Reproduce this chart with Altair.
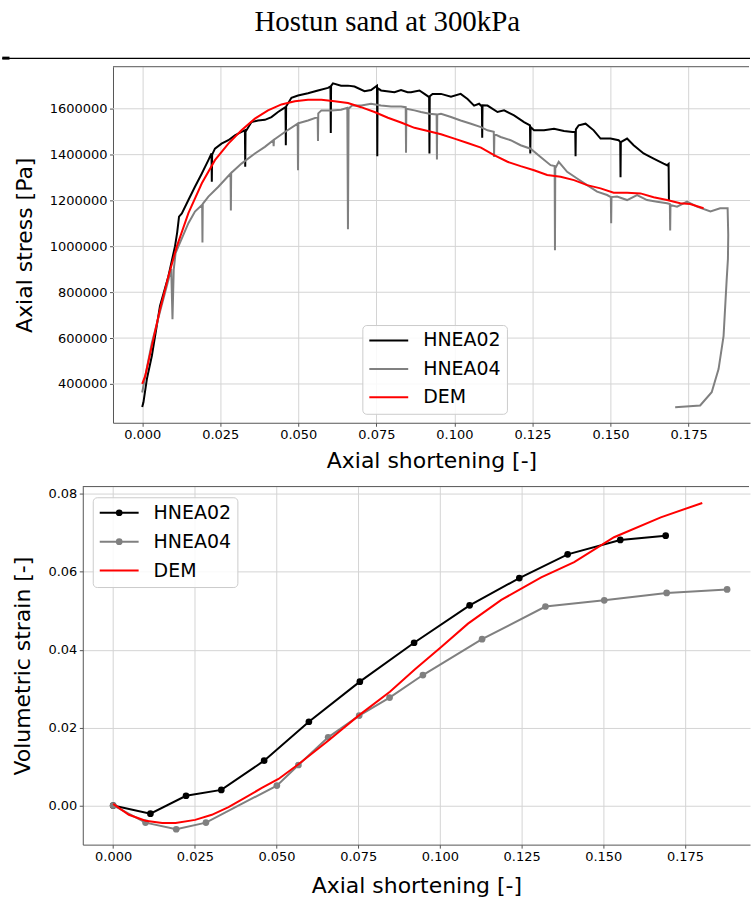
import altair as alt
import pandas as pd

SERIES = ["HNEA02", "HNEA04", "DEM"]
COLORS = ["#000000", "#808080", "#ff0000"]
FRAME = "#555555"
GRID = "#d4d4d4"
TITLE = "Hostun sand at 300kPa"

# ---------------- top panel: axial stress vs axial shortening ----------------
top_h02_x = [0.0000, 0.0004, 0.0015, 0.0031, 0.0057, 0.0084, 0.0105, 0.0112, 0.0118, 0.0127,
             0.0148, 0.0169, 0.0191, 0.0212, 0.0222, 0.0223, 0.0224, 0.0233, 0.0254, 0.0276,
             0.0297, 0.0318, 0.0329, 0.0330, 0.0331, 0.0350, 0.0371, 0.0393, 0.0414, 0.0435,
             0.0459, 0.0460, 0.0461, 0.0478, 0.0499, 0.0531, 0.0563, 0.0595, 0.0603, 0.0604,
             0.0605, 0.0611, 0.0637, 0.0659, 0.0680, 0.0712, 0.0733, 0.0752, 0.0753, 0.0754,
             0.0765, 0.0808, 0.0829, 0.0850, 0.0861, 0.0888, 0.0904, 0.0919, 0.0920, 0.0921,
             0.0930, 0.0957, 0.0989, 0.1020, 0.1042, 0.1063, 0.1079, 0.1088, 0.1089, 0.1090,
             0.1106, 0.1138, 0.1159, 0.1191, 0.1223, 0.1242, 0.1243, 0.1244, 0.1255, 0.1287,
             0.1319, 0.1351, 0.1378, 0.1387, 0.1388, 0.1389, 0.1398, 0.1420, 0.1446, 0.1468,
             0.1500, 0.1526, 0.1531, 0.1532, 0.1533, 0.1553, 0.1574, 0.1606, 0.1638, 0.1670,
             0.1681, 0.1686, 0.1687]
top_h02_y = [300000, 320000, 421000, 523000, 740000, 870000, 1000000, 1060000, 1130000, 1144000,
             1202000, 1260000, 1318000, 1376000, 1405000, 1282000, 1400000, 1426000, 1448000, 1463000,
             1484000, 1499000, 1506000, 1347000, 1500000, 1542000, 1549000, 1552000, 1564000, 1586000,
             1607000, 1441000, 1610000, 1648000, 1658000, 1668000, 1680000, 1691000, 1697000, 1494000,
             1700000, 1711000, 1701000, 1701000, 1697000, 1677000, 1682000, 1701000, 1393000, 1690000,
             1680000, 1672000, 1682000, 1672000, 1672000, 1680000, 1665000, 1651000, 1405000, 1655000,
             1665000, 1665000, 1653000, 1665000, 1643000, 1614000, 1622000, 1610000, 1474000, 1615000,
             1614000, 1586000, 1593000, 1571000, 1542000, 1528000, 1405000, 1520000, 1506000, 1506000,
             1513000, 1503000, 1499000, 1499000, 1393000, 1510000, 1528000, 1535000, 1506000, 1470000,
             1470000, 1463000, 1455000, 1301000, 1455000, 1470000, 1441000, 1405000, 1383000, 1361000,
             1354000, 1360000, 1200000]

top_h04_x = [0.0000, 0.0010, 0.0031, 0.0057, 0.0084, 0.0093, 0.0097, 0.0101, 0.0107, 0.0116,
             0.0148, 0.0169, 0.0192, 0.0193, 0.0194, 0.0212, 0.0244, 0.0283, 0.0284, 0.0285,
             0.0318, 0.0361, 0.0393, 0.0420, 0.0421, 0.0422, 0.0457, 0.0498, 0.0499, 0.0500,
             0.0531, 0.0562, 0.0563, 0.0564, 0.0574, 0.0606, 0.0637, 0.0657, 0.0659, 0.0661,
             0.0672, 0.0702, 0.0733, 0.0765, 0.0797, 0.0829, 0.0844, 0.0845, 0.0846, 0.0872,
             0.0893, 0.0920, 0.0943, 0.0944, 0.0945, 0.0957, 0.0989, 0.1020, 0.1053, 0.1085,
             0.1106, 0.1126, 0.1127, 0.1128, 0.1148, 0.1180, 0.1212, 0.1244, 0.1276, 0.1308,
             0.1321, 0.1322, 0.1323, 0.1334, 0.1361, 0.1393, 0.1425, 0.1457, 0.1489, 0.1501,
             0.1502, 0.1503, 0.1521, 0.1553, 0.1585, 0.1617, 0.1649, 0.1681, 0.1690, 0.1691,
             0.1692, 0.1713, 0.1745, 0.1777, 0.1820, 0.1851, 0.1875, 0.1877, 0.1876, 0.1872,
             0.1862, 0.1846, 0.1824, 0.1787, 0.1707]
top_h04_y = [363000, 436000, 580000, 715000, 855000, 901000, 682000, 899000, 971000, 1000000,
             1101000, 1152000, 1181000, 1017000, 1185000, 1217000, 1260000, 1318000, 1156000, 1320000,
             1361000, 1405000, 1434000, 1463000, 1437000, 1465000, 1499000, 1535000, 1332000, 1537000,
             1549000, 1564000, 1460000, 1580000, 1593000, 1593000, 1596000, 1604000, 1075000, 1600000,
             1614000, 1614000, 1622000, 1614000, 1610000, 1610000, 1607000, 1408000, 1600000, 1593000,
             1586000, 1578000, 1575000, 1379000, 1575000, 1578000, 1564000, 1549000, 1535000, 1520000,
             1506000, 1500000, 1390000, 1490000, 1477000, 1463000, 1441000, 1426000, 1390000, 1354000,
             1350000, 983000, 1340000, 1369000, 1325000, 1296000, 1267000, 1239000, 1224000, 1215000,
             1101000, 1215000, 1217000, 1202000, 1224000, 1202000, 1195000, 1188000, 1185000, 1069000,
             1180000, 1173000, 1195000, 1173000, 1152000, 1166000, 1166000, 1050000, 945000, 855000,
             609000, 465000, 364000, 306000, 298000]

top_dem_x = [0.0000, 0.0010, 0.0031, 0.0057, 0.0084, 0.0111, 0.0148, 0.0191, 0.0233, 0.0276,
             0.0318, 0.0361, 0.0403, 0.0446, 0.0489, 0.0531, 0.0574, 0.0616, 0.0659, 0.0701,
             0.0744, 0.0787, 0.0829, 0.0872, 0.0915, 0.0957, 0.1000, 0.1042, 0.1085, 0.1127,
             0.1170, 0.1212, 0.1255, 0.1297, 0.1340, 0.1383, 0.1425, 0.1468, 0.1510, 0.1553,
             0.1596, 0.1638, 0.1681, 0.1723, 0.1755, 0.1798]
top_dem_y = [400000, 436000, 566000, 725000, 870000, 1000000, 1145000, 1275000, 1376000, 1448000,
             1506000, 1557000, 1593000, 1619000, 1633000, 1639000, 1639000, 1633000, 1625000, 1607000,
             1586000, 1561000, 1540000, 1517000, 1503000, 1489000, 1470000, 1451000, 1431000, 1398000,
             1369000, 1350000, 1332000, 1311000, 1304000, 1289000, 1267000, 1253000, 1234000, 1234000,
             1231000, 1214000, 1202000, 1188000, 1185000, 1166000]

top_xticks = [0.0, 0.025, 0.05, 0.075, 0.1, 0.125, 0.15, 0.175]
top_yticks = [400000, 600000, 800000, 1000000, 1200000, 1400000, 1600000]

# ---------------- bottom panel: volumetric strain vs axial shortening ----------------
bot_h02_x = [0.0, 0.0114, 0.0223, 0.0331, 0.0462, 0.0599, 0.0755, 0.0921, 0.1091, 0.1243,
             0.1391, 0.1552, 0.1691]
bot_h02_y = [0.0, -0.0021, 0.0025, 0.0040, 0.0115, 0.0215, 0.0318, 0.0418, 0.0514, 0.0584,
             0.0645, 0.0682, 0.0693]
bot_h04_x = [0.0, 0.0099, 0.0193, 0.0284, 0.0501, 0.0567, 0.0658, 0.0753, 0.0846, 0.0948,
             0.1129, 0.1323, 0.1503, 0.1694, 0.1879]
bot_h04_y = [0.0, -0.0044, -0.0061, -0.0044, 0.0051, 0.0104, 0.0175, 0.0231, 0.0277, 0.0335,
             0.0427, 0.0511, 0.0527, 0.0546, 0.0555]
bot_dem_x = [0.0, 0.0048, 0.0099, 0.0150, 0.0191, 0.0251, 0.0302, 0.0353, 0.0404, 0.0455,
             0.0506, 0.0567, 0.0658, 0.0753, 0.0847, 0.0923, 0.1004, 0.1086, 0.1188, 0.1310,
             0.1411, 0.1533, 0.1676, 0.1803]
bot_dem_y = [0.0004, -0.0024, -0.0039, -0.0045, -0.0045, -0.0037, -0.0024, -0.0004, 0.0020, 0.0045,
             0.0068, 0.0106, 0.0166, 0.0232, 0.0292, 0.0349, 0.0407, 0.0467, 0.0528, 0.0586,
             0.0625, 0.0689, 0.0740, 0.0777]

bot_xticks = [0.0, 0.025, 0.05, 0.075, 0.1, 0.125, 0.15, 0.175]
bot_yticks = [0.0, 0.02, 0.04, 0.06, 0.08]


def table(name, xs, ys):
    return pd.DataFrame({"x": xs, "y": ys, "series": name, "i": list(range(len(xs)))})


top_df = pd.concat([table("HNEA02", top_h02_x, top_h02_y),
                    table("HNEA04", top_h04_x, top_h04_y),
                    table("DEM", top_dem_x, top_dem_y)], ignore_index=True)
bot_df = pd.concat([table("HNEA02", bot_h02_x, bot_h02_y),
                    table("HNEA04", bot_h04_x, bot_h04_y),
                    table("DEM", bot_dem_x, bot_dem_y)], ignore_index=True)
one = pd.DataFrame({"k": [0]})
top_grid_df = pd.DataFrame({"y": top_yticks})

W = 669          # both panels share the same group origin
SHIFT = 30.3     # the upper panel's frame starts this far right of the lower one
TH, BH = 357, 359


def line_legend(lx, ly, rowpad):
    return alt.Legend(title=None, orient="none", legendX=lx, legendY=ly,
                      symbolType="stroke", symbolSize=1521, symbolStrokeWidth=2,
                      labelFont="DejaVu Sans", labelFontSize=19, labelColor="black",
                      clipHeight=19, rowPadding=rowpad, padding=6, labelOffset=14,
                      fillColor="rgba(255,255,255,0.85)", strokeColor="#cccccc",
                      cornerRadius=4, zindex=1)


# ---- top chart ----
xs_top = alt.Scale(domain=[-0.00935, 0.19467], range=[SHIFT, W], nice=False, zero=False)
ys_top = alt.Scale(domain=[230800, 1783500], nice=False, zero=False)
X_top = alt.X("x:Q", scale=xs_top,
              axis=alt.Axis(values=top_xticks, format=".3f", title="Axial shortening [-]",
                            titlePadding=9, labelFlush=False))
Y_top = alt.Y("y:Q", scale=ys_top,
              axis=alt.Axis(values=top_yticks, format="d", title="Axial stress [Pa]",
                            titlePadding=13, labelFlush=False, grid=False, offset=-SHIFT))
C_top = alt.Color("series:N", scale=alt.Scale(domain=SERIES, range=COLORS),
                  legend=line_legend(250 + SHIFT, 259, 8.5))

top_grid = alt.Chart(top_grid_df).mark_rule(color=GRID, strokeWidth=1).encode(
    y=Y_top, x=alt.value(SHIFT), x2=alt.value(W))
top_layers = [
    alt.Chart(top_df).transform_filter(alt.datum.series == s)
    .mark_line(strokeWidth=2, clip=True)
    .encode(x=X_top, y=Y_top, color=C_top, order="i:Q")
    for s in SERIES
]
header = alt.Chart(one).mark_rule(color="black", strokeWidth=1.3).encode(
    x=alt.value(-80.7), x2=alt.value(W), y=alt.value(-8.4))
stub = alt.Chart(one).mark_rule(color="black", strokeWidth=3).encode(
    x=alt.value(-80.7), x2=alt.value(-73.5), y=alt.value(-8.6))
top_frame = alt.Chart(one).mark_rule(color=FRAME, strokeWidth=1).encode(
    x=alt.value(SHIFT), x2=alt.value(W - 1), y=alt.value(0))
title = alt.Chart(one).mark_text(text=TITLE, font="Liberation Serif", fontSize=29,
                                 baseline="alphabetic", align="center", color="black").encode(
    x=alt.value(305.3), y=alt.value(-35.7))

top = alt.layer(top_grid, *top_layers, header, stub, top_frame, title).properties(
    width=W, height=TH)

# ---- bottom chart ----
X_bot = alt.X("x:Q", scale=alt.Scale(domain=[-0.0093, 0.19491], nice=False, zero=False),
              axis=alt.Axis(values=bot_xticks, format=".3f", title="Axial shortening [-]",
                            titlePadding=12, labelFlush=False))
Y_bot = alt.Y("y:Q", scale=alt.Scale(domain=[-0.01006, 0.0819], nice=False, zero=False),
              axis=alt.Axis(values=bot_yticks, format=".2f", title="Volumetric strain [-]",
                            titlePadding=13, labelFlush=False))
C_bot = alt.Color("series:N", scale=alt.Scale(domain=SERIES, range=COLORS),
                  legend=line_legend(10, 10.7, 9))
F_bot = alt.Fill("series:N", scale=alt.Scale(domain=SERIES[:2], range=COLORS[:2]),
                 legend=alt.Legend(title=None, orient="none", legendX=10, legendY=10.7,
                                   symbolType="circle", symbolSize=45, symbolStrokeWidth=0,
                                   symbolOpacity=1, labelFontSize=19, labelExpr="''",
                                   clipHeight=19, rowPadding=9, padding=6, symbolOffset=11,
                                   zindex=2))

bot_lines = [
    alt.Chart(bot_df).transform_filter(alt.datum.series == s)
    .mark_line(strokeWidth=2, clip=True)
    .encode(x=X_bot, y=Y_bot, color=C_bot, order="i:Q")
    for s in SERIES
]
bot_points = [
    alt.Chart(bot_df).transform_filter(alt.datum.series == s)
    .mark_circle(size=45, opacity=1, clip=True)
    .encode(x=X_bot, y=Y_bot, fill=F_bot)
    for s in SERIES[:2]
]
bot_frame = alt.Chart(one).mark_rule(color=FRAME, strokeWidth=1).encode(
    x=alt.value(0), x2=alt.value(W - 1), y=alt.value(0))

bottom = alt.layer(bot_lines[0], bot_points[0], bot_lines[1], bot_points[1], bot_lines[2],
                   bot_frame).properties(width=W, height=BH)

chart = alt.concat(top, bottom, columns=1, spacing=14).resolve_scale(
    color="independent", fill="independent"
).resolve_legend(color="independent", fill="independent").properties(
    padding={"left": 0, "top": 6.7, "right": 0, "bottom": 0}
).configure_view(stroke=None).configure_axis(
    labelFont="DejaVu Sans", labelFontSize=13, labelColor="black",
    titleFont="DejaVu Sans", titleFontSize=22, titleFontWeight="normal", titleColor="black",
    domainColor=FRAME, tickColor=FRAME, tickSize=3.5, labelPadding=2.5,
    gridColor=GRID, gridWidth=1,
)

chart.save("out.html", embed_options={"renderer": "svg", "actions": False})
